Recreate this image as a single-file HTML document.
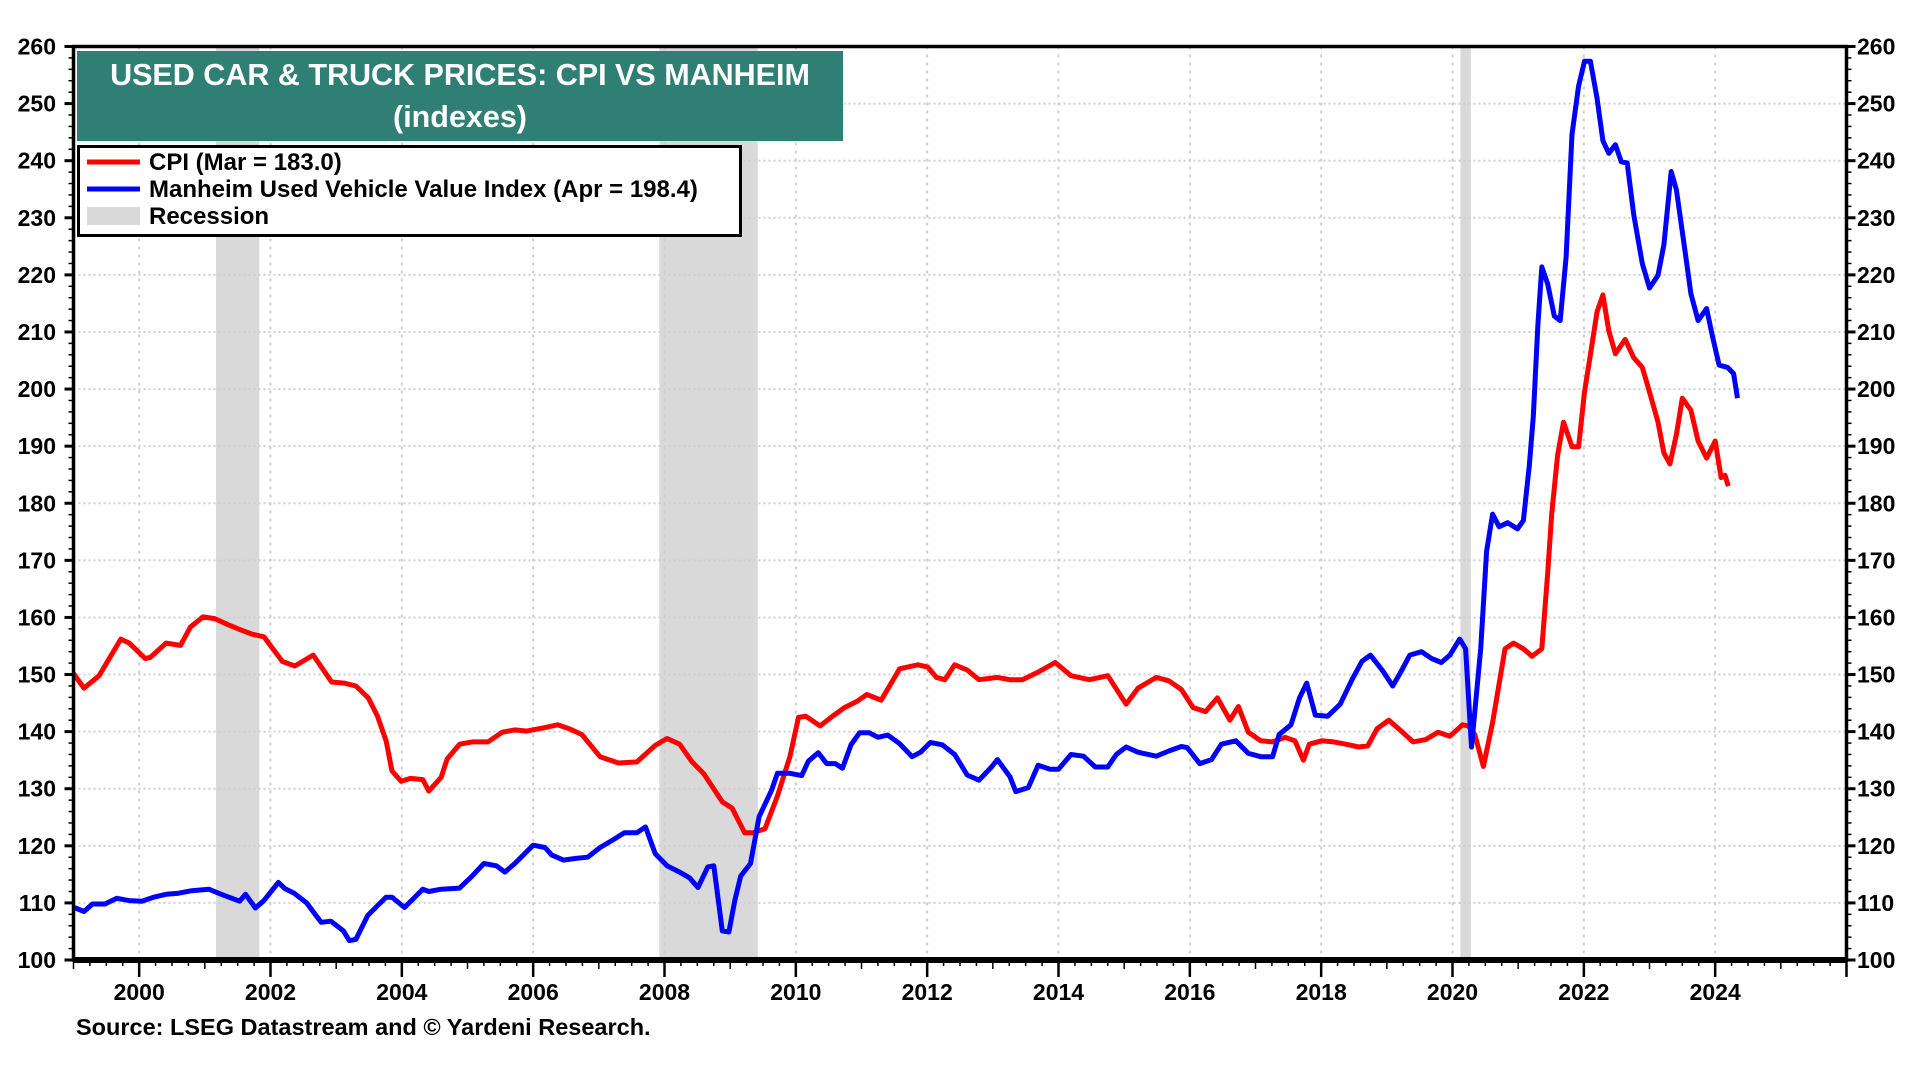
<!DOCTYPE html>
<html><head><meta charset="utf-8"><style>
body{margin:0;background:#fff;}
svg{display:block;font-family:"Liberation Sans",Arial,sans-serif;font-weight:bold;}
</style></head><body>
<svg id="chart" width="1920" height="1080">
<g id="recess"></g>
<g id="grid"></g>
<g id="series"></g>
<g id="axes"></g>
<g>
<rect x="77" y="51" width="766" height="90" fill="#307f74"/>
<text x="460" y="85" text-anchor="middle" font-size="30.5" fill="#fff">USED CAR &amp; TRUCK PRICES: CPI VS MANHEIM</text>
<text x="460" y="127" text-anchor="middle" font-size="30.5" fill="#fff">(indexes)</text>
</g>
<g>
<rect x="78.5" y="146.5" width="662" height="89" fill="#fff" stroke="#000" stroke-width="3"/>
<g><line x1="87" y1="162" x2="140" y2="162" stroke="#f00" stroke-width="5"/><text x="149" y="170" font-size="24">CPI  (Mar = 183.0)</text></g>
<g><line x1="87" y1="189" x2="140" y2="189" stroke="#00f" stroke-width="5"/><text x="149" y="197" font-size="24">Manheim Used Vehicle Value Index (Apr = 198.4)</text></g>
<g><rect x="87" y="207" width="53" height="18" fill="#d9d9d9"/><text x="149" y="224" font-size="24">Recession</text></g>
</g>
<text x="76" y="1035" font-size="23.5">Source: LSEG Datastream and © Yardeni Research.</text>
</svg>
<script>
const cpiDates=[1999.0,1999.16,1999.39,1999.72,1999.85,2000.09,2000.17,2000.41,2000.63,2000.78,2000.97,2001.15,2001.34,2001.53,2001.71,2001.9,2002.18,2002.37,2002.65,2002.93,2003.12,2003.3,2003.49,2003.63,2003.76,2003.85,2003.99,2004.13,2004.32,2004.41,2004.6,2004.69,2004.88,2005.07,2005.31,2005.53,2005.72,2005.9,2006.18,2006.37,2006.55,2006.74,2007.02,2007.3,2007.58,2007.86,2008.04,2008.23,2008.42,2008.6,2008.88,2009.03,2009.22,2009.35,2009.53,2009.72,2009.91,2010.04,2010.15,2010.37,2010.56,2010.74,2010.93,2011.08,2011.3,2011.58,2011.86,2012.01,2012.14,2012.27,2012.42,2012.61,2012.79,2013.07,2013.26,2013.45,2013.72,2013.95,2014.19,2014.47,2014.75,2015.03,2015.21,2015.49,2015.68,2015.87,2016.05,2016.24,2016.42,2016.61,2016.74,2016.89,2017.08,2017.26,2017.45,2017.6,2017.73,2017.82,2018.01,2018.19,2018.38,2018.57,2018.71,2018.85,2019.03,2019.22,2019.4,2019.59,2019.78,2019.96,2020.15,2020.24,2020.34,2020.47,2020.61,2020.8,2020.93,2021.08,2021.21,2021.36,2021.45,2021.51,2021.6,2021.69,2021.82,2021.92,2022.01,2022.1,2022.2,2022.29,2022.38,2022.48,2022.63,2022.76,2022.89,2023.0,2023.13,2023.22,2023.31,2023.41,2023.5,2023.63,2023.74,2023.87,2024.0,2024.09,2024.15,2024.2];
const cpiValues=[150.2,147.6,149.8,156.2,155.5,152.8,153,155.5,155.1,158.3,160.1,159.8,158.8,157.9,157.1,156.6,152.3,151.5,153.4,148.7,148.5,148,145.9,142.7,138.4,133.1,131.3,131.8,131.6,129.6,132,135.2,137.8,138.2,138.2,139.9,140.3,140.1,140.7,141.2,140.5,139.5,135.6,134.5,134.7,137.6,138.8,137.8,134.7,132.6,127.7,126.6,122.3,122.3,123,128.7,135.6,142.5,142.7,141,142.7,144.2,145.3,146.5,145.5,151,151.7,151.3,149.5,149.1,151.7,150.8,149.1,149.5,149.1,149.1,150.6,152.1,149.8,149.1,149.8,144.8,147.6,149.5,148.9,147.4,144.2,143.5,145.9,142,144.4,139.9,138.4,138.2,139,138.4,135,137.8,138.4,138.2,137.8,137.3,137.5,140.5,142,140.1,138.2,138.6,139.9,139.2,141.2,141,139.5,133.9,141.6,154.5,155.5,154.5,153.2,154.5,167.8,178.1,188.4,194.2,189.9,189.9,199.5,206,213.5,216.5,210.2,206.2,208.7,205.5,203.8,199.5,194.2,188.8,186.9,192,198.4,196.3,190.9,187.9,190.9,184.5,184.9,183];
const manDates=[1999.01,1999.16,1999.29,1999.48,1999.66,1999.85,2000.04,2000.22,2000.41,2000.6,2000.78,2001.06,2001.25,2001.53,2001.62,2001.77,2001.9,2002.12,2002.22,2002.36,2002.55,2002.77,2002.92,2003.11,2003.2,2003.3,2003.48,2003.76,2003.85,2004.04,2004.32,2004.41,2004.6,2004.88,2005.07,2005.25,2005.44,2005.57,2005.72,2006.0,2006.18,2006.28,2006.46,2006.65,2006.83,2007.02,2007.21,2007.39,2007.58,2007.71,2007.86,2008.04,2008.23,2008.38,2008.51,2008.66,2008.75,2008.88,2008.98,2009.07,2009.16,2009.31,2009.44,2009.63,2009.72,2009.91,2010.09,2010.19,2010.34,2010.47,2010.6,2010.71,2010.84,2010.97,2011.12,2011.25,2011.4,2011.58,2011.77,2011.9,2012.05,2012.23,2012.42,2012.61,2012.79,2012.98,2013.07,2013.26,2013.35,2013.54,2013.69,2013.87,2014.0,2014.19,2014.38,2014.56,2014.75,2014.88,2015.03,2015.21,2015.49,2015.68,2015.87,2015.96,2016.15,2016.33,2016.48,2016.7,2016.89,2017.08,2017.26,2017.36,2017.54,2017.67,2017.78,2017.91,2018.1,2018.29,2018.47,2018.62,2018.75,2018.94,2019.09,2019.22,2019.35,2019.53,2019.68,2019.83,2019.96,2020.11,2020.2,2020.29,2020.43,2020.52,2020.61,2020.71,2020.84,2020.99,2021.08,2021.17,2021.23,2021.3,2021.36,2021.45,2021.55,2021.64,2021.73,2021.82,2021.92,2022.01,2022.1,2022.2,2022.29,2022.38,2022.48,2022.57,2022.66,2022.76,2022.89,2023.0,2023.13,2023.22,2023.33,2023.41,2023.54,2023.63,2023.74,2023.87,2023.96,2024.06,2024.19,2024.28,2024.34];
const manValues=[109.2,108.5,109.8,109.8,110.8,110.4,110.3,111,111.5,111.7,112.1,112.4,111.5,110.3,111.5,109.1,110.4,113.6,112.5,111.7,110,106.6,106.8,105.1,103.4,103.6,107.8,111,111,109.2,112.4,112,112.4,112.6,114.7,116.9,116.5,115.4,116.9,120.1,119.7,118.4,117.5,117.8,118,119.7,121,122.3,122.3,123.3,118.6,116.5,115.4,114.4,112.7,116.3,116.5,105.1,104.9,110.4,114.7,116.9,125.1,129.7,132.7,132.7,132.3,134.8,136.3,134.4,134.4,133.6,137.7,139.8,139.8,139,139.4,137.9,135.6,136.4,138.1,137.7,136,132.4,131.5,133.8,135.1,132.1,129.5,130.2,134.1,133.4,133.4,136,135.7,133.8,133.8,136,137.3,136.4,135.7,136.6,137.4,137.2,134.4,135.1,137.8,138.4,136.2,135.6,135.6,139.5,141.2,145.9,148.5,142.9,142.7,144.8,149.1,152.3,153.4,150.6,148,150.6,153.4,154,152.8,152.1,153.4,156.2,154.5,137.3,154.5,171.6,178.1,175.9,176.6,175.5,177,186.6,195.2,211.3,221.4,218.4,212.8,212,223.1,244.6,253.1,257.4,257.4,251,243.5,241.3,242.8,239.8,239.6,230.6,222,217.7,219.9,225.3,238.1,234.9,224.2,216.7,212,214.1,209.2,204.2,203.8,202.7,198.4];
const recStarts=[2001.17,2007.92,2020.12];
const recEnds=[2001.83,2009.42,2020.28];
const yTicks=[100,110,120,130,140,150,160,170,180,190,200,210,220,230,240,250,260];
const xTicks=[2000,2002,2004,2006,2008,2010,2012,2014,2016,2018,2020,2022,2024];

const NS='http://www.w3.org/2000/svg';
const L=73.5,R=1846.5,T=46.5,B=960;
const X=y=>L+(y-1999)/(2026-1999)*(R-L);
const Y=v=>B-(v-100)/(260-100)*(B-T);
function mk(tag,attrs,parent,text){const e=document.createElementNS(NS,tag);for(const k in attrs)e.setAttribute(k,attrs[k]);if(text!==undefined)e.textContent=text;parent.appendChild(e);return e;}
const gRec=document.getElementById('recess'),gGrid=document.getElementById('grid'),gSer=document.getElementById('series'),gAx=document.getElementById('axes');
recStarts.forEach((s,i)=>{
  const r=mk('rect',{x:X(s),y:T,width:X(recEnds[i])-X(s),height:B-T,fill:'#d9d9d9'},gRec);
  
  
});
yTicks.forEach(v=>{
  if(v>100&&v<260){const l=mk('line',{x1:L,x2:R,y1:Y(v),y2:Y(v),stroke:'#cfcfcf','stroke-width':2,'stroke-dasharray':'2,3'},gGrid);
  
  }
  const t1=mk('text',{x:56,y:Y(v)+8,'text-anchor':'end','font-size':23},gAx,String(v));
  
  
  const t2=mk('text',{x:1857,y:Y(v)+8,'font-size':23},gAx,String(v));
  
  
  mk('line',{x1:L-9,x2:L,y1:Y(v),y2:Y(v),stroke:'#000','stroke-width':3},gAx);
  mk('line',{x1:R,x2:R+9,y1:Y(v),y2:Y(v),stroke:'#000','stroke-width':3},gAx);
});
for(let v=102;v<260;v+=2){if(v%10){mk('line',{x1:L-5,x2:L,y1:Y(v),y2:Y(v),stroke:'#000','stroke-width':1.5},gAx);mk('line',{x1:R,x2:R+5,y1:Y(v),y2:Y(v),stroke:'#000','stroke-width':1.5},gAx);}}
xTicks.forEach(y=>{
  const l=mk('line',{x1:X(y),x2:X(y),y1:T,y2:B,stroke:'#cfcfcf','stroke-width':2,'stroke-dasharray':'3,5'},gGrid);
  
  
  const t=mk('text',{x:X(y),y:1000,'text-anchor':'middle','font-size':23},gAx,String(y));
  
  
});
for(let q=1999;q<=2026;q+=0.25){const big=Math.abs(q%2)<1e-6&&q>=2000;mk('line',{x1:X(q),x2:X(q),y1:B,y2:B+(big?17:(q%1===0?9:6)),stroke:'#000','stroke-width':big?2.5:1.5},gAx);}
function line(d,v,c,name){
  const p=mk('polyline',{points:d.map((x,i)=>X(x).toFixed(1)+','+Y(v[i]).toFixed(1)).join(' '),fill:'none',stroke:c,'stroke-width':5,'stroke-linejoin':'round'},gSer);
  
  
}
line(cpiDates,cpiValues,'#ff0000','cpi-line');
line(manDates,manValues,'#0000ff','manheim-line');
const fr=mk('rect',{x:L,y:T,width:R-L,height:B-T,fill:'none',stroke:'#000','stroke-width':3.5},gAx);


mk('line',{x1:L,x2:R,y1:B,y2:B,stroke:'#000','stroke-width':6},gAx);
</script>
</body></html>
